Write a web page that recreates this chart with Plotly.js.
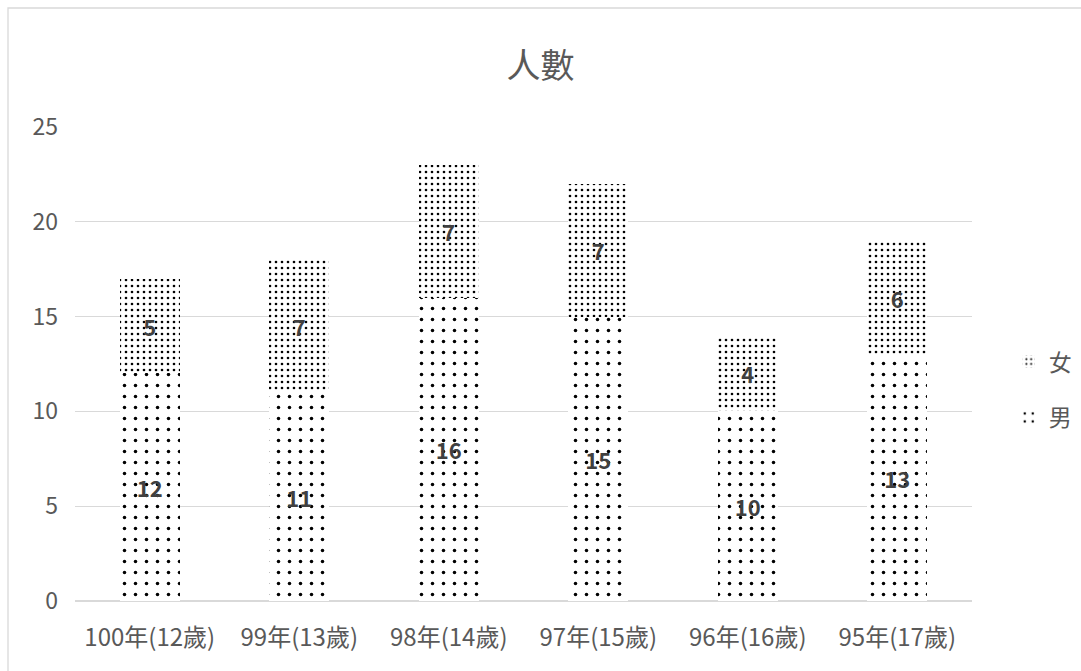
<!DOCTYPE html>
<html><head><meta charset="utf-8">
<script src="https://cdn.plot.ly/plotly-3.0.1.min.js"></script>
<style>html,body{margin:0;padding:0;background:#fff;}#chart{width:1081px;height:671px;}</style>
</head><body><div id="chart"></div>
<script>
const categories = ["100年(12歲)","99年(13歲)","98年(14歲)","97年(15歲)","96年(16歲)","95年(17歲)"];
const male = [12,11,16,15,10,13];
const female = [5,7,7,7,4,6];
const font = '"Noto Sans CJK TC", "Noto Sans", sans-serif';

const traces = [
  {type:'bar', name:'男', x:categories, y:male, legendgroup:'m', legendrank:2,
   text:male.map(String), textposition:'inside', insidetextanchor:'middle',
   textfont:{size:22, color:'#404040', family:font, weight:'bold'},
   marker:{color:'#ffffff', line:{width:0}, pattern:{shape:'.', size:11, solidity:0.08, fgcolor:'#000000', bgcolor:'#ffffff', fillmode:'replace'}},
   hoverinfo:'x+y'},
  {type:'bar', name:'女', x:categories, y:female, legendgroup:'f', legendrank:1,
   text:female.map(String), textposition:'inside', insidetextanchor:'middle',
   textfont:{size:22, color:'#404040', family:font, weight:'bold'},
   marker:{color:'#ffffff', line:{width:0}, pattern:{shape:'.', size:6, solidity:0.15, fgcolor:'#000000', bgcolor:'#ffffff', fillmode:'replace'}},
   hoverinfo:'x+y'}
];

const L=75, R=109, T=127, B=70, W=1081, H=671;
const pw=W-L-R, ph=H-T-B;
const layout = {
  width:W, height:H,
  margin:{l:L, r:R, t:T, b:B, pad:0, autoexpand:false},
  paper_bgcolor:'#ffffff', plot_bgcolor:'#ffffff',
  font:{family:font, color:'#595959', size:22},
  title:{text:'人數', x:0.5, xanchor:'center', y:0.902, yanchor:'middle', font:{size:34, color:'#595959', family:font}},
  barmode:'stack', bargap:0.6,
  showlegend:true,
  legend:{x:1.041, xanchor:'left', y:0.446, yanchor:'middle', traceorder:'grouped', tracegroupgap:23,
    font:{size:23, color:'#595959', family:font}, bgcolor:'rgba(0,0,0,0)', itemwidth:30},
  xaxis:{type:'category', showgrid:false, zeroline:false, showline:false, ticks:'', tickfont:{size:24, color:'#595959'}, automargin:false, ticklabelstandoff:20},
  yaxis:{range:[0,25], tickvals:[0,5,10,15,20,25], showgrid:true, gridcolor:'#d9d9d9', gridwidth:1.3, zeroline:true, zerolinecolor:'#d9d9d9', zerolinewidth:1.3, showline:false, ticks:'', tickfont:{size:23, color:'#595959'}, automargin:false, ticklabelstandoff:16},
  shapes:[{type:'rect', xref:'paper', yref:'paper', x0:(8-L)/pw, x1:(1100-L)/pw, y0:(H-B-690)/ph, y1:(H-B-8)/ph, line:{color:'#d9d9d9', width:1.3}, fillcolor:'rgba(0,0,0,0)', layer:'below'}]
};
Plotly.newPlot('chart', traces, layout, {displayModeBar:false, staticPlot:true});
</script></body></html>
